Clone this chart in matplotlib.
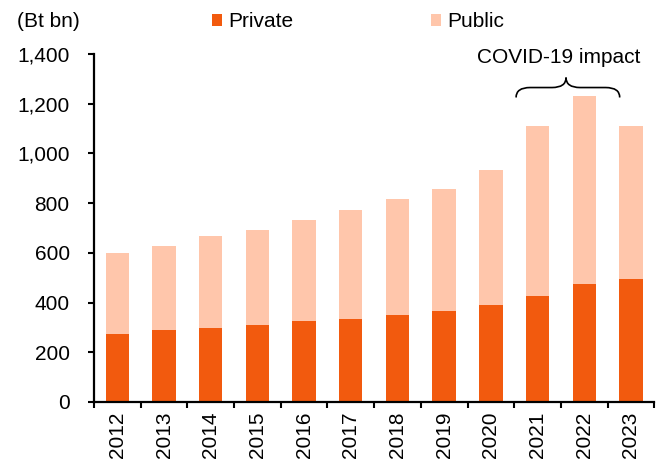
"""Thailand investment by sector, private vs public, stacked bars."""

import matplotlib

matplotlib.use("Agg")

import matplotlib.pyplot as plt
import numpy as np
from matplotlib.patches import PathPatch
from matplotlib.path import Path
from matplotlib.ticker import FuncFormatter

plt.rcParams["font.family"] = ["Liberation Sans", "DejaVu Sans"]

years = ["2012", "2013", "2014", "2015", "2016", "2017",
         "2018", "2019", "2020", "2021", "2022", "2023"]
private = [272, 288, 299, 308, 324, 334, 351, 368, 392, 428, 474, 493]
total = [601, 628, 668, 691, 732, 772, 816, 858, 932, 1110, 1232, 1110]
public = [t - p for t, p in zip(total, private)]

PRIVATE_COLOR = "#F25A0E"
PUBLIC_COLOR = "#FFC6AB"
FS = 15

fig = plt.figure(figsize=(6.66, 4.63), dpi=100)
ax = fig.add_axes([0.1411, 0.1318, 0.8413, 0.7516])

x = np.arange(len(years))
ax.bar(x, private, width=0.5, color=PRIVATE_COLOR, label="Private")
ax.bar(x, public, width=0.5, bottom=private, color=PUBLIC_COLOR, label="Public")

ax.set_xlim(-0.5, len(years) - 0.5)
ax.set_ylim(0, 1400)
ax.set_yticks(np.arange(0, 1401, 200))
ax.yaxis.set_major_formatter(FuncFormatter(lambda v, _: f"{int(v):,}"))

ax.set_xticks(x)
ax.set_xticklabels(years, rotation=90)
ax.set_xticks(np.arange(-0.5, len(years), 1), minor=True)
ax.tick_params(axis="x", which="major", length=0, pad=7, labelsize=FS)
ax.tick_params(axis="x", which="minor", length=4.5, width=1.5, direction="out")
ax.tick_params(axis="y", length=4, width=1.5, direction="out", labelsize=FS, pad=13.5)

for side in ("top", "right"):
    ax.spines[side].set_visible(False)
for side in ("left", "bottom"):
    ax.spines[side].set_linewidth(1.6)

fig.text(0.025, 0.953, "(Bt bn)", fontsize=FS, va="center", ha="left")

fig.legend(loc="center left", bbox_to_anchor=(0.318, 0.953), ncol=2, frameon=False,
           fontsize=FS, handlelength=0.5, handleheight=0.5, handletextpad=0.3,
           columnspacing=6.6, borderpad=0, borderaxespad=0)

# curly brace over the COVID-19 years
x0, x1, xc = 8.54, 10.76, 9.61
y_low, y_mid, y_top = 1225, 1265, 1305
r = 0.3
verts = [
    (x0, y_low), (x0, y_mid), (x0 + r, y_mid),
    (xc - r, y_mid),
    (xc, y_mid), (xc, y_top),
    (xc, y_mid), (xc + r, y_mid),
    (x1 - r, y_mid),
    (x1, y_mid), (x1, y_low),
]
codes = [Path.MOVETO, Path.CURVE3, Path.CURVE3, Path.LINETO,
         Path.CURVE3, Path.CURVE3, Path.CURVE3, Path.CURVE3,
         Path.LINETO, Path.CURVE3, Path.CURVE3]
ax.add_patch(PathPatch(Path(verts, codes), fill=False, lw=1.2, color="black", clip_on=False))
ax.text(9.46, 1385, "COVID-19 impact", fontsize=FS, ha="center", va="center")

fig.savefig("out.png", dpi=100)
